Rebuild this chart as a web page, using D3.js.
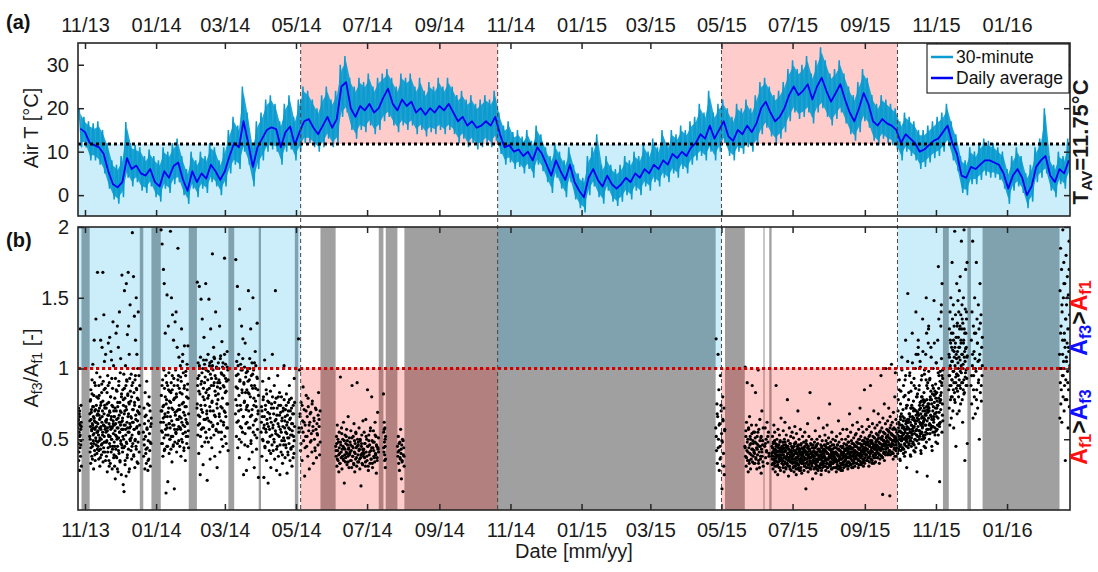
<!DOCTYPE html>
<html><head><meta charset="utf-8">
<script src="https://cdn.jsdelivr.net/npm/d3@7"></script>
<style>
body{margin:0;background:#fff;}
svg{font-family:"Liberation Sans",Arial,Helvetica,sans-serif;}
</style></head><body>
<svg id="c" width="1098" height="572"></svg>
<script>
// ---------------- DATA ----------------
const xDomain = ["2013-10-26", "2016-02-24"];
const tickDates = ["2013-11-01","2014-01-01","2014-03-01","2014-05-01","2014-07-01","2014-09-01","2014-11-01","2015-01-01","2015-03-01","2015-05-01","2015-07-01","2015-09-01","2015-11-01","2016-01-01"];
const tickLabels = ["11/13","01/14","03/14","05/14","07/14","09/14","11/14","01/15","03/15","05/15","07/15","09/15","11/15","01/16"];
const tempTicks = [0, 10, 20, 30];
const ratioTicks = [0.5, 1, 1.5, 2];
const ratioTickLabels = ["0.5", "1", "1.5", "2"];
const tAv = 11.75;
const ratioThreshold = 1;

// air temperature, one sample every 4 days from seriesStart
const seriesStart = "2013-10-27";
const stepDays = 4;
const dailyAvg = [15.3,14.5,12,11.5,11,9.5,5.5,2.5,1.8,3, 8.5,6,6.8,5,4.5,6,3,2,5.5,4,
 6.7,7.5,3.6,1,5.5,3,5,3.8,7,5.5, 3.5,5.5,9,12,11,17,12,6.5,11,13,
 15,15.6,15.2,11,14.5,15.8,11.5,14.5,17,17.5, 15.5,14,16,18,15.5,17.5,25,26,20,18,
 20.5,19.5,21,19,20,22.5,24.5,21,19.5,22, 20.5,21.5,19,20,18.5,20,19,20.5,19.5,21,
 19,17,18,16,17,15.5,16,17,16,18, 14,11,11.5,10,10.5,9,10,8,11,9.5,
 7,4.5,8,5.5,3.5,7,3,1,-0.5,4, 6,3.5,2,4.5,2.5,1.5,2.5,4,3,5,
 4,6,5,7,6,8,7,9.5,8.5,10, 9,11,12,14,13,16,13,15,17,13.5,
 12.5,15,14,16,14.5,16.5,20,21.5,19,17, 18,20,23,25,23,24,25.5,22,25,27,
 24,21.5,23.5,25.5,22,19,17,20,23.5,21, 17,16,17.5,16.5,16,15,12,14,13,12,
 10,10.5,11.5,12.5,13,14.5,16,12,9.5,4.5, 4,6.5,6,7,8,8,7.5,7,5,1.5,
 4.5,6,4,0,2,6.5,8,9,4.5,3, 6,5,8];
const halfHourMax = [20,18,17,16.5,17,15,12,8,7,9, 16.8,12,11.5,11,9,10.5,9,8,11,10,
 12,13,9,6,10,8,10,9,12,11, 8,11,15,18,16,25,19,12,17,19,
 22,23,21,17,21,23,18,22,25,24, 22,20,23,25,22,24,30,32,27,25,
 27,26,28,25,27,28,29,27,25,28, 27,28,25,27,24,26,25,27,25,27,
 25,23,24,22,23,21,22,23,22,24, 19,16,17,14.5,15,13.5,15,12.5,16,14,
 11,9,12,10,8,11,7,5,4,9, 11,14,7,9,7,6,7,9,8,10,
 9,12,10,13,11,15,12,15,14,16, 15,17,18,21,19,24,19,21,22,20,
 18,21,20,22,20,23,26,27,25,23, 24,26,29,31,29,30,32,28,31,34,
 31,28,29,31,28,25,23,26,29,27, 23,21,23,22,21,20,17,19,18,17,
 15,15,16,17,18,19,21,17,14,9, 8,11,10,12,13,12.5,12,11,10,6,
 9,11,9,5,7,11,13,20,9,7, 10,9,13];
const halfHourMin = [11,11,8,8,7,5,1.5,-1,-2,-0.5, 4,2,3,1,0.5,2,-0.5,-1.5,1.5,0.5,
 2.5,3,0,-2,1.5,-0.5,1.5,0.5,3,2, 0,2,5,7,6,10,7,2,6,8,
 10,10.5,10,7,10,10.5,8,10,12,12, 11,10,11,13,11,12,18,19,15,13,
 15,14.5,16,14,15,17,18,16,14.5,16, 15,16,14,15,13.5,14.5,14,15,14,15,
 14,12,13,11,12,10.5,11,12,11,12.5, 9.5,7,7.5,6,6.5,5,6,4,7,5.5,
 3,0.5,4,1.5,-0.5,3,-1,-3,-4,0, 2,-0.5,-2,1,-1.5,-2.5,-1.5,0,-1,1,
 0,2,1,3,2,4,3,5,4,6, 5,7,8,9,8,10,8,10,12,9,
 8,10,9.5,11,10,11.5,14,15.5,13.5,12, 13,14.5,17,19,17.5,18,19,16.5,19,20,
 18,16,17.5,19,16.5,14,12.5,14.5,17,15.5, 12.5,11.5,13,12,11.5,10.5,8,10,9,8,
 6,6.5,7.5,8.5,9,10,11.5,8,5.5,0.5, 0,2.5,2.5,3.5,4.5,4,4,3.5,1.5,-2,
 1,2,0.5,-3,-1.5,3,4,5,1,-0.5, 2.5,1.5,4];

// seasons (warm = mean T above T_AV)
const seasonStart = ["2013-10-26","2014-05-05","2014-10-21","2015-05-01","2015-09-29"];
const seasonEnd   = ["2014-05-05","2014-10-21","2015-05-01","2015-09-29","2016-02-24"];
const seasonType  = ["cold","warm","cold","warm","cold"];

// data gaps of the ratio record
const gapStart = ["2013-10-29","2013-12-18","2013-12-28","2014-01-29","2014-03-04","2014-03-30","2014-04-30","2014-05-22","2014-07-11","2014-07-17","2014-08-02","2015-05-04","2015-06-06","2015-06-11","2015-11-07","2015-11-28","2015-12-11"];
const gapEnd   = ["2013-11-05","2013-12-21","2014-01-05","2014-02-05","2014-03-09","2014-04-01","2014-05-03","2014-06-04","2014-07-15","2014-07-27","2015-04-26","2015-05-21","2015-06-07","2015-06-13","2015-11-12","2015-12-01","2016-02-15"];

// A_f3/A_f1 values (x100); each block holds passes separated by "|", each pass spans the whole block
const blockStart = ["2013-10-26","2013-11-05","2013-11-12","2013-11-19","2013-11-26","2013-12-03","2013-12-10","2013-12-21",
 "2014-01-05","2014-01-13","2014-01-21","2014-02-05","2014-02-14","2014-02-23","2014-03-10","2014-03-20",
 "2014-04-01","2014-04-11","2014-04-21","2014-05-03","2014-06-04","2014-06-16","2014-06-28","2014-07-15","2014-07-27",
 "2015-04-26","2015-05-21","2015-05-29","2015-06-07",
 "2015-06-13","2015-06-22","2015-07-01","2015-07-10","2015-07-19","2015-07-28","2015-08-06","2015-08-15","2015-08-24",
 "2015-09-02","2015-09-11","2015-09-20","2015-09-29","2015-10-08","2015-10-17","2015-10-26",
 "2015-11-12","2015-11-20","2015-12-01","2016-02-15"];
const blockEnd = ["2013-10-29","2013-11-12","2013-11-19","2013-11-26","2013-12-03","2013-12-10","2013-12-18","2013-12-28",
 "2014-01-13","2014-01-21","2014-01-29","2014-02-14","2014-02-23","2014-03-04","2014-03-20","2014-03-30",
 "2014-04-11","2014-04-21","2014-04-30","2014-05-22","2014-06-16","2014-06-28","2014-07-11","2014-07-17","2014-08-02",
 "2015-05-04","2015-05-29","2015-06-06","2015-06-11",
 "2015-06-22","2015-07-01","2015-07-10","2015-07-19","2015-07-28","2015-08-06","2015-08-15","2015-08-24","2015-09-02",
 "2015-09-11","2015-09-20","2015-09-29","2015-10-08","2015-10-17","2015-10-26","2015-11-07",
 "2015-11-20","2015-11-28","2015-12-11","2016-02-24"];
const blockValues = [
 "58 63 47 72 35 61 55 68 28 52 66 44 60 128 38 57 49 74 62 31|64 41 70 53 46 59",
 "52 68 41 77 59 33 85 64 47 71 56 38 92 61 45 73 103 58 49 66 29 81 54 120 63 42 70 57 35 88 62 51 135 46 74 59 97 40 67 55 168 48|63 50 78 44 69 57 82 36 60 53 73 47 65 90 39 58 71 49 62 80 55 43 68",
 "61 45 79 53 36 88 67 49 72 58 31 94 65 43 120 57 76 50 39 83 62 115 47 70 55 168 34 91 60 44 138 68 52 105 74 41 59 86 48 110 63|56 70 42 81 64 51 37 74 59 46 89 66 53 77 41 60 85 48 72 57 35 63",
 "55 72 38 64 49 83 27 58 95 67 44 118 53 76 35 61 90 47 122 69 52 33 80 57 112 41 66 106 50 74 29 59 86 45 133 63 54 102 70 39|62 48 75 56 41 88 67 52 31 70 59 45 80 64 50 93 58 43 73 61 37 66",
 "48 66 31 79 56 22 93 61 43 125 70 52 37 84 58 130 45 73 27 65 115 51 88 40 62 140 55 76 34 97 60 107 47 69 25 82 57 166 44|60 45 72 53 38 85 64 50 29 76 58 42 91 67 55 35 70 49 62 80 46 57",
 "63 41 85 57 18 74 50 96 13 68 155 45 79 32 60 102 53 88 24 160 71 47 91 37 124 58 82 66 168 43 130 76 55 110 29 93 61 145 49|65 52 78 44 60 86 70 35 57 73 48 92 62 39 81 55 68 27 75 58 50 84",
 "59 77 42 96 65 36 88 53 196 71 47 100 62 165 39 83 57 137 74 30 92 50 120 67 45 150 86 58 110 34 79 63 100 48 140 69 55 95 41 73 60|66 51 80 45 62 90 71 38 57 76 49 95 64 43 85 59 70 33 78 54 68 88",
 "55 38 72 46 61 29 83 52 40 67 33 91 58 44 75 28 49 63 36 80 54 42 70 31 59 47 65|50 66 43 57 35 74 48 61",
 "62 198 81 47 70 188 55 92 38 65 170 74 51 160 86 43 68 125 57 95 12 60 78 45 152 66 88 20 53 130 72 97 40 61 84 50|70 56 88 47 73 62 99 42 66 80 53 75 90 58 45 69 85 61 77 50",
 "58 197 76 43 90 150 63 34 85 138 52 71 46 120 93 60 15 79 48 133 67 99 55 140 82 41 70 115 57 88 185 64 95 49 108 74|66 83 52 72 95 60 45 78 88 57 69 100 54 80 64 47 92 71 59 86",
 "66 45 83 102 57 38 91 128 62 75 48 110 54 97 69 42 86 116 59 73 35 95 64 52 80 47 103 61 89 116 56 44|71 58 94 65 50 82 105 60 76 44 88 67 55 98 73 62 85 52 79 68",
 "72 161 88 53 104 67 40 95 158 61 82 25 108 74 149 57 91 45 135 69 100 32 86 58 122 78 103 48 94 64 160 83 106 51 70 21|75 93 60 84 102 66 52 89 71 97 58 80 106 64 90 74 55 99 68 85",
 "65 92 110 48 81 149 57 102 73 36 96 128 62 88 105 44 77 181 59 99 70 115 53 90 107 38 84 66 140 93 56 101 75 30 87 61|79 98 63 86 104 70 51 93 76 102 60 88 108 67 95 81 57 100 72 90",
 "78 104 55 92 68 130 41 86 109 63 97 50 119 72 101 45 88 60 95 70 178 52 83 103 66 47 91 75 112 58 99 42|82 100 66 90 107 73 55 96 79 104 62 87 110 69 93 84 58 101 75 92",
 "68 177 87 52 105 74 158 44 96 63 110 81 37 142 92 59 103 71 48 130 85 99 55 121 66 25 90 76 101 46 118 83 61 97 28 73|78 95 62 86 102 70 50 91 74 99 58 83 107 66 89 77 54 94 71 85",
 "62 98 45 83 155 70 36 92 107 58 80 128 49 95 67 104 41 86 150 60 99 74 30 88 53 112 77 102 64 43 94 132 57 85 70 23|74 91 58 82 100 66 47 88 71 96 55 79 104 63 86 73 51 93 68 81",
 "55 73 38 66 91 49 80 23 60 106 44 71 57 85 35 64 48 77 19 59 93 42 68 52 84 30 62 75 46 110|62 70 50 78 58 66 45 74 55 82 61 69 48 76 57 65 40 72 53 80",
 "58 42 72 50 88 36 63 155 54 79 28 67 45 95 61 38 74 52 83 25 57 69 41 80 49 65 33 59 72 46 102|60 68 48 76 56 64 43 72 53 80 59 67 46 74 55 63 39 70 51 78",
 "49 63 37 71 55 44 82 60 26 67 51 39 76 58 47 88 64 35 70 53 43 79 61 31 56 68 45 74 52 40 93 59|58 66 46 74 54 62 41 70 51 78 57 65 44 72 53 61 37 68 49 76",
 "121 55 99 68 42 76 58 35 63 87 49 71 24 60 52 81 45 66 38 73 56 29 62 48 69 54 41 77 59 33 65 50 44 72 57 37 61 53 46 83 64 39 70|58 66 47 74 55 62 44 70 52 79 60 68 49 75 56 63 42 71 54 67 59 48",
 "45 38 52 31 60 42 35 48 27 55 40 33 94 46 37 58 29 43 50 36 62 44 19 39 53 34 47 41 57 32 49 38 66 43 30 51|42 47 36 50 39 44 33 48 41 54 38 45 35 49 43 37 52 40 46 34 44 39",
 "40 48 35 56 42 30 88 45 38 52 33 61 41 27 47 36 54 44 31 90 50 39 46 34 58 43 29 49 37 17 45 53 40 32 63 42|41 46 35 51 38 44 32 49 40 55 37 45 34 48 42 36 50 39 47 33 43 38",
 "43 55 37 47 31 64 41 50 35 85 45 28 53 39 46 33 58 42 36 80 49 30 44 56 38 48 34 62 40 52 26 45 37 69 43 51|40 47 34 52 38 45 31 49 41 56 36 44 33 48 42 37 53 39 46 35 44 41",
 "82 55 41 62 48 35 58 45 30 52|44 57 39 50 36",
 "45 38 52 33 42 28 48 36 57 40 22 46 35 50 13 39 44 31|41 47 37 43 34 49 38",
 "58 121 42 75 33 66 110 50 85 28 61 45 95 37 70 54 15 48 80 63 40 72 25 57|52 68 44 60 36 74 49 64 31 56",
 "45 101 38 56 31 62 42 90 35 50 27 58 44 33 66 40 52 29 47 36 60 43 88 34 49 38 55 41|44 52 37 48 41 57 35 46 50 39 54 43 47 33",
 "42 55 33 48 83 37 60 44 29 52 39 46 99 35 57 41 30 64 45 36 51 26 43 70 38 49 34 58|40 51 36 47 43 55 33 45 49 38 52 41 46 31",
 "45 58 37 50 42 62 33 48 55 40|47 41 52 38",
 "38 45 32 52 41 29 48 36 60 43 33 55 40 27 47 35 88 42 31 50 38 45 25 57 39 34 46 30 53 41 37 49 28 44 65 36 42 33|40 36 44 33 47 38 42 35 49 31 43 37 45 39 34 41 46 32 38 44 36 42 30 48 39 35 43 37 41 45",
 "41 35 48 30 56 39 44 27 50 37 62 42 33 46 29 53 38 45 32 78 40 35 49 24 43 36 58 31 47 39 34 52 41 28 45 37 55 33|39 35 43 32 46 37 41 34 48 30 42 36 44 38 33 40 45 31 37 43 35 41 29 47 38 34 42 36 40 44",
 "36 44 30 51 39 27 47 34 59 42 31 48 37 25 54 40 33 45 29 70 38 46 32 50 41 28 43 35 57 39 30 47 36 26 44 33 52 40|38 34 42 31 45 36 40 33 47 29 41 35 43 37 32 39 44 30 36 42 34 40 28 46 37 33 41 35 39 43",
 "40 33 48 28 44 37 55 31 42 36 15 49 39 30 46 34 61 41 27 45 38 52 32 43 35 83 29 47 37 40 33 50 31 44 22 38 46 35|38 35 42 31 45 36 41 33 47 30 40 36 44 37 32 39 43 30 37 42 34 40 29 46 38 33 41 35 39 44",
 "35 42 29 48 38 33 56 40 26 45 36 31 50 41 34 47 28 39 65 37 43 30 52 36 41 32 46 25 38 44 35 49 30 42 37 58 33 40|37 34 41 30 44 35 40 32 46 29 39 35 43 36 31 38 42 30 36 41 33 39 28 45 37 32 40 34 38 43",
 "39 46 31 53 37 42 28 49 35 44 33 60 40 30 47 36 51 27 43 38 75 34 45 32 48 39 29 41 55 36 43 33 50 38 30 46 40 35|38 35 42 31 45 36 41 33 47 30 40 36 44 37 32 39 43 31 37 42 34 40 29 46 38 33 41 35 39 44",
 "37 44 30 49 36 41 27 52 39 34 46 31 43 38 63 35 48 29 42 37 54 33 45 28 40 36 50 32 44 39 57 34 41 30 47 38 35 43|37 34 41 30 44 35 40 32 46 29 39 35 43 36 31 38 42 30 36 41 33 39 28 45 37 32 40 34 38 43",
 "42 35 50 31 46 38 57 33 44 40 29 52 37 48 34 43 68 39 45 32 55 41 36 49 30 47 38 60 35 44 33 51 40 37 46 31 42 53|39 36 43 32 46 37 42 34 48 31 41 37 45 38 33 40 44 32 38 43 35 41 30 47 39 34 42 36 40 45",
 "45 38 54 33 48 41 62 36 47 40 30 57 43 35 50 39 72 44 37 52 32 46 41 59 38 49 34 55 42 36 47 40 85 33 51 44 39 48|41 37 45 33 48 39 44 35 50 32 43 38 47 40 34 42 46 33 39 45 36 43 31 49 41 35 44 37 42 47",
 "46 39 57 35 50 43 64 37 48 41 31 59 45 38 53 40 88 47 36 55 42 49 33 61 44 52 39 46 70 37 51 43 58 40 34 48 45 54|43 39 47 35 50 41 46 37 52 34 45 40 49 42 36 44 48 35 41 47 38 45 33 51 43 37 46 39 44 49",
 "49 42 60 37 53 45 68 40 51 44 33 62 47 39 56 43 95 50 38 58 45 52 11 65 46 55 41 49 75 40 54 47 61 43 100 51 48 57|46 41 50 37 53 43 48 39 55 36 47 42 51 44 38 46 50 37 43 49 40 47 35 54 45 39 48 41 46 52",
 "52 44 63 39 56 48 72 42 55 46 10 66 50 41 60 45 103 53 40 62 47 57 36 69 49 58 44 52 80 43 97 50 64 46 38 55 51 61|49 44 53 40 56 46 51 42 58 39 50 45 54 47 41 49 53 40 46 52 43 50 38 57 48 42 51 44 49 55",
 "56 48 70 42 62 52 85 45 60 50 35 75 55 46 68 49 108 58 44 66 53 63 40 80 54 65 47 57 92 51 120 61 72 50 30 59 74 64 153|53 47 58 43 61 50 56 45 64 42 55 49 60 51 44 54 59 43 50 57 46 55 41 63 52 45 57 48 54 62|40 78 47 92 36 66 84 52 99 43 71 88 58 38 81 95 49 74 62 105",
 "62 52 78 46 68 57 95 49 66 55 38 84 60 51 74 54 125 64 47 72 58 70 42 88 59 71 50 63 100 56 140 67 80 53 27 65 82 69 110 115|58 51 64 47 68 55 62 49 72 45 60 53 66 56 48 59 65 46 54 63 50 61 44 70 57 49 63 52 59 67|44 83 52 97 39 72 90 57 104 47 77 93 63 41 86 110 53 80 68 120",
 "67 56 85 50 74 62 105 54 72 60 40 92 65 55 80 58 135 70 52 78 63 76 45 96 64 77 53 68 110 60 150 73 88 57 24 71 90 75 118 128 98|64 56 71 52 76 61 68 54 80 50 66 59 74 62 53 65 72 51 60 70 55 67 48 78 63 54 69 57 65 75|47 88 56 101 42 77 95 61 112 50 83 99 67 44 92 125 57 86 73 130",
 "72 60 92 54 80 67 115 58 78 64 42 100 70 59 86 62 148 76 55 84 68 82 48 104 69 83 57 74 120 65 172 79 95 61 20 77 98 81 130 140 107 88 160 75 93|70 61 78 57 84 66 75 59 88 55 73 64 81 68 58 72 79 56 66 77 60 74 53 86 69 59 76 62 71 83 90 95 67 63|50 93 60 108 45 82 100 66 118 53 89 104 72 47 97 135 61 91 78 145 55 99",
 "85 110 72 128 95 60 140 102 78 118 150 88 65 125 105 92 175 80 135 113 70 98 145 120 58 90 130 108 83 197 115 76 100 138 94 45 122 86 107 160 96 68 132 112 88 148|95 108 88 120 100 80 115 92 105 125 85 98 112 78 102 118 90 110 96 130 84 104",
 "95 122 80 140 108 70 155 115 88 130 165 98 75 138 118 102 190 90 128 145 78 110 62 132 100 85 150 120 92 198 128 83 112 35 105 142 97 170 125 88 115 135 93 108 175 47|100 115 92 128 106 86 120 97 110 135 90 103 118 82 108 125 94 114 99 140 88 109",
 "88 120 75 140 102 190 65 130 95 112 80 150 107 68 125 98 175 85 135 118 72 105 145 92 128 50 110 160 83 100 138 77 115 95 122|95 110 85 125 100 78 118 90 106 132 88 102",
 "110 65 155 90 185 75 130 100 170 62 140 95 120 198 80 150 105 175 70 125 88 160 115 35 135 92 180 108 145 78 118 165 98 128 58 152 85 112 190 73 138 102|100 125 85 145 110 95 160 120 78 135 105 150 90 115 170 128"
];

// ---------------- STYLE / LAYOUT ----------------
const C = {halfHour:"#0a9bd0", daily:"#0000f5", cold:"rgba(0,170,230,0.2)", warm:"rgba(255,0,0,0.2)", gap:"#a0a0a0", frame:"#262626"};
const L = 78, R = 1070;
const aT = 43, aB = 216, bT = 227, bB = 510;
const passOffset = [0.3, 0.7, 0.5];

const parse = d3.utcParse("%Y-%m-%d");
const svg = d3.select("#c");
const x = d3.scaleUtc().domain(xDomain.map(parse)).range([L, R]);
const yT = d3.scaleLinear().domain([-4.8, 35]).range([aB, aT]);
const yR = d3.scaleLinear().domain([0, 2]).range([bB, bT]);

const defs = svg.append("defs");
defs.append("clipPath").attr("id","clipA").append("rect").attr("x",L).attr("y",aT).attr("width",R-L).attr("height",aB-aT);
defs.append("clipPath").attr("id","clipB").append("rect").attr("x",L).attr("y",bT).attr("width",R-L).attr("height",bB-bT);

// ---------- panel (a) ----------
const gA = svg.append("g").attr("clip-path","url(#clipA)");
seasonStart.forEach((s,i)=>{
  const x0 = x(parse(s)), x1 = x(parse(seasonEnd[i]));
  const warm = seasonType[i]==="warm";
  gA.append("rect").attr("x",x0).attr("width",x1-x0)
    .attr("y", warm ? aT : yT(tAv)).attr("height", warm ? yT(tAv)-aT : aB-yT(tAv))
    .attr("fill", warm ? C.warm : C.cold);
});
const t0 = parse(seriesStart);
const hh = [];
dailyAvg.forEach((d,i)=>{
  const t = d3.utcDay.offset(t0, i*stepDays);
  hh.push([t, halfHourMax[i]]);
  hh.push([d3.utcDay.offset(t, 2), halfHourMin[i]]);
});
gA.append("path").datum(dailyAvg).attr("fill",C.halfHour).attr("opacity",0.9)
  .attr("d", d3.area().x((d,i)=>x(d3.utcDay.offset(t0, i*stepDays+1)))
    .y0((d,i)=>yT(halfHourMin[i]+1.2)).y1((d,i)=>yT(halfHourMax[i]-1.2)));
gA.append("path").datum(hh).attr("fill","none").attr("stroke",C.halfHour).attr("stroke-width",1.5)
  .attr("d", d3.line().x(d=>x(d[0])).y(d=>yT(d[1])));
gA.append("path").datum(dailyAvg).attr("fill","none").attr("stroke",C.daily).attr("stroke-width",1.8)
  .attr("stroke-linejoin","round")
  .attr("d", d3.line().x((d,i)=>x(d3.utcDay.offset(t0, i*stepDays+1))).y(d=>yT(d)));
gA.append("line").attr("x1",L).attr("x2",R).attr("y1",yT(tAv)).attr("y2",yT(tAv))
  .attr("stroke","#000").attr("stroke-width",3).attr("stroke-dasharray","3,3");

// ---------- panel (b) ----------
const gB = svg.append("g").attr("clip-path","url(#clipB)");
gapStart.forEach((s,i)=>{
  const x0 = x(parse(s)), x1 = x(parse(gapEnd[i]));
  gB.append("rect").attr("x",x0).attr("width",x1-x0).attr("y",bT).attr("height",bB-bT).attr("fill",C.gap);
});
seasonStart.forEach((s,i)=>{
  const x0 = x(parse(s)), x1 = x(parse(seasonEnd[i]));
  const warm = seasonType[i]==="warm";
  gB.append("rect").attr("x",x0).attr("width",x1-x0)
    .attr("y", warm ? yR(ratioThreshold) : bT).attr("height", warm ? bB-yR(ratioThreshold) : yR(ratioThreshold)-bT)
    .attr("fill", warm ? C.warm : C.cold);
});
const pts = [];
blockStart.forEach((s,b)=>{
  const s0 = parse(s), s1 = parse(blockEnd[b]);
  blockValues[b].split("|").forEach((pass,k)=>{
    const vals = pass.trim().split(/\s+/).map(v=>+v/100);
    vals.forEach((v,j)=>pts.push({t:new Date(+s0 + (j+passOffset[k])/vals.length*(s1-s0)), v}));
  });
});
gB.selectAll("circle").data(pts).join("circle")
  .attr("cx",d=>x(d.t)).attr("cy",d=>yR(d.v)).attr("r",1.6).attr("fill","#000");
gB.append("line").attr("x1",L).attr("x2",R).attr("y1",yR(ratioThreshold)).attr("y2",yR(ratioThreshold))
  .attr("stroke","#d40000").attr("stroke-width",3).attr("stroke-dasharray","3.2,2.8");

// season boundaries
seasonStart.slice(1).forEach(s=>{
  svg.append("line").attr("x1",x(parse(s))).attr("x2",x(parse(s))).attr("y1",aT).attr("y2",bB)
    .attr("stroke","#444").attr("stroke-width",1).attr("stroke-dasharray","4,3");
});

// ---------- axes ----------
const tv = tickDates.map(parse);
const fmt = d => tickLabels[tv.findIndex(t=>+t===+d)];
function styleAxis(g){
  g.select(".domain").remove();
  g.selectAll(".tick line").attr("stroke",C.frame).attr("stroke-width",1.5);
  g.selectAll("text").attr("font-size",20).attr("fill","#1a1a1a").attr("font-family","'Liberation Sans',Arial,sans-serif");
}
svg.append("g").attr("transform",`translate(0,${aT})`).call(d3.axisTop(x).tickValues(tv).tickFormat(fmt).tickSize(-6).tickPadding(11)).call(styleAxis);
svg.append("g").attr("transform",`translate(0,${aB})`).call(d3.axisBottom(x).tickValues(tv).tickFormat("").tickSize(-6)).call(styleAxis);
svg.append("g").attr("transform",`translate(0,${bT})`).call(d3.axisTop(x).tickValues(tv).tickFormat("").tickSize(-6)).call(styleAxis);
svg.append("g").attr("transform",`translate(0,${bB})`).call(d3.axisBottom(x).tickValues(tv).tickFormat(fmt).tickSize(-6).tickPadding(13)).call(styleAxis);
svg.append("g").attr("transform",`translate(${L},0)`).call(d3.axisLeft(yT).tickValues(tempTicks).tickSize(-6).tickPadding(9)).call(styleAxis);
svg.append("g").attr("transform",`translate(${R},0)`).call(d3.axisRight(yT).tickValues(tempTicks).tickFormat("").tickSize(-6)).call(styleAxis);
svg.append("g").attr("transform",`translate(${L},0)`).call(d3.axisLeft(yR).tickValues(ratioTicks).tickFormat((d,i)=>ratioTickLabels[i]).tickSize(-6).tickPadding(9)).call(styleAxis);
svg.append("g").attr("transform",`translate(${R},0)`).call(d3.axisRight(yR).tickValues(ratioTicks).tickFormat("").tickSize(-6)).call(styleAxis);

// frames
[[aT,aB],[bT,bB]].forEach(([t,b])=>{
  svg.append("rect").attr("x",L).attr("y",t).attr("width",R-L).attr("height",b-t)
    .attr("fill","none").attr("stroke",C.frame).attr("stroke-width",1.6);
});

// legend
const lg = svg.append("g");
lg.append("rect").attr("x",927).attr("y",44).attr("width",142).attr("height",49).attr("fill","#fff").attr("stroke","#000").attr("stroke-width",1);
[["30-minute",C.halfHour,57],["Daily average",C.daily,78]].forEach(([t,c,y])=>{
  lg.append("line").attr("x1",931).attr("x2",953).attr("y1",y).attr("y2",y).attr("stroke",c).attr("stroke-width",2.5);
  lg.append("text").attr("x",956).attr("y",y+6).attr("font-size",17.5).attr("fill","#111").text(t);
});

// ---------- texts ----------
function rich(parts, tx, ty, size, weight){
  const t = svg.append("text").attr("transform",`translate(${tx},${ty}) rotate(-90)`)
    .attr("text-anchor","middle").attr("font-size",size).attr("font-weight",weight||"normal");
  let sub = false;
  parts.forEach(p=>{
    const ts = t.append("tspan").text(p.t).attr("fill", p.c||"#1a1a1a");
    if(p.s){ ts.attr("font-size", size*0.7); if(!sub) ts.attr("dy", size*0.18); sub = true; }
    else { if(sub) ts.attr("dy", -size*0.18); sub = false; }
  });
  return t;
}
svg.append("text").attr("x",6).attr("y",29).attr("font-size",20).attr("font-weight","bold").attr("fill","#111").text("(a)");
svg.append("text").attr("x",6).attr("y",247).attr("font-size",20).attr("font-weight","bold").attr("fill","#111").text("(b)");
rich([{t:"Air T [°C]"}], 38, 128, 20);
rich([{t:"A"},{t:"f3",s:1},{t:"/A"},{t:"f1",s:1},{t:" [-]"}], 38, 368, 20);
svg.append("text").attr("x",574).attr("y",558).attr("text-anchor","middle").attr("font-size",20).attr("fill","#1a1a1a").text("Date [mm/yy]");
rich([{t:"T"},{t:"AV",s:1},{t:"=11.75°C"}], 1088, 142, 22, "bold");
rich([{t:"A",c:"#1010ff"},{t:"f3",s:1,c:"#1010ff"},{t:">",c:"#111"},{t:"A",c:"#ff1010"},{t:"f1",s:1,c:"#ff1010"}], 1087, 318, 23, "bold");
rich([{t:"A",c:"#ff1010"},{t:"f1",s:1,c:"#ff1010"},{t:">",c:"#111"},{t:"A",c:"#1010ff"},{t:"f3",s:1,c:"#1010ff"}], 1087, 427, 23, "bold");
</script>
</body></html>
